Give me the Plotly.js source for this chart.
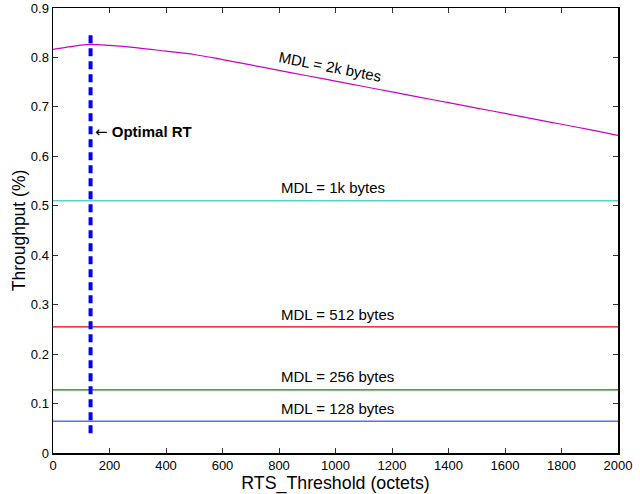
<!DOCTYPE html>
<html>
<head>
<meta charset="utf-8">
<script src="https://cdn.plot.ly/plotly-3.0.1.min.js"></script>
<style>html,body{margin:0;padding:0;background:#fff;}#chart{width:640px;height:494px;}</style>
</head>
<body>
<div id="chart"></div>
<script>
// RTS threshold (octets) samples for the 2k-byte curve
const xCurve = [0, 50, 100, 130, 200, 300, 400, 500, 600, 700, 800, 900, 1000, 1100, 1200, 1300, 1400, 1500, 1600, 1700, 1800, 1900, 2000];
const mdl2k = [0.8165, 0.821, 0.825, 0.8266, 0.8245, 0.8195, 0.8128, 0.806, 0.7957, 0.7848, 0.7739, 0.763, 0.7521, 0.7412, 0.7303, 0.7194, 0.7085, 0.6976, 0.6867, 0.6758, 0.6649, 0.654, 0.6425];

const xFlat = [0, 2000];
const mdl1k = 0.51;
const mdl512 = 0.255;
const mdl256 = 0.1275;
const mdl128 = 0.064;

const optimalRT = 133;
const optimalRange = [0.04, 0.85];

const labels = ["MDL = 2k bytes", "MDL = 1k bytes", "MDL = 512 bytes", "MDL = 256 bytes", "MDL = 128 bytes"];
const labelY = [0.781, 0.536, 0.2795, 0.155, 0.0895];
const xTicks = [0, 200, 400, 600, 800, 1000, 1200, 1400, 1600, 1800, 2000];
const yTicks = [0, 0.1, 0.2, 0.3, 0.4, 0.5, 0.6, 0.7, 0.8, 0.9];

const flat = v => xFlat.map(() => v);

const traces = [
  {x: xCurve, y: mdl2k, mode: 'lines', line: {color: '#cc00cc', width: 1.2, shape: 'spline', smoothing: 1}},
  {x: xFlat, y: flat(mdl1k), mode: 'lines', line: {color: '#5fd0c8', width: 1.5}},
  {x: xFlat, y: flat(mdl512), mode: 'lines', line: {color: '#e00000', width: 1.2}},
  {x: xFlat, y: flat(mdl256), mode: 'lines', line: {color: '#008800', width: 1.2}},
  {x: xFlat, y: flat(mdl128), mode: 'lines', line: {color: '#5a6cf0', width: 1.5}},
  {x: [optimalRT, optimalRT], y: optimalRange, mode: 'lines', line: {color: '#0000ff', width: 4, dash: '8px,5px'}}
];

const FAM = 'Liberation Sans, Arial, sans-serif';
const fnt = {family: FAM, size: 15, color: '#000'};
const annotations = [
  {x: 980, y: labelY[0], text: labels[0], showarrow: false, textangle: 11, font: fnt, xanchor: 'center', yanchor: 'middle'},
  {x: 800, y: labelY[1], text: labels[1], showarrow: false, font: fnt, xanchor: 'left', yanchor: 'middle'},
  {x: 800, y: labelY[2], text: labels[2], showarrow: false, font: fnt, xanchor: 'left', yanchor: 'middle'},
  {x: 800, y: labelY[3], text: labels[3], showarrow: false, font: fnt, xanchor: 'left', yanchor: 'middle'},
  {x: 800, y: labelY[4], text: labels[4], showarrow: false, font: fnt, xanchor: 'left', yanchor: 'middle'},
  {x: 140, y: 0.649, text: '<span style="font-family:DejaVu Sans">←</span> <b>Optimal RT</b>', showarrow: false, font: {family: FAM, size: 15, color: '#000'}, xanchor: 'left', yanchor: 'middle'}
];

const axisCommon = {
  showgrid: false, zeroline: false, showline: true, linecolor: '#000', linewidth: 1.5,
  mirror: 'ticks', ticks: 'inside', ticklen: 5, tickcolor: '#333', tickwidth: 1,
  tickfont: {family: FAM, size: 13, color: '#000'}
};

const layout = {
  width: 640, height: 494,
  margin: {l: 53, r: 22, t: 8, b: 41},
  paper_bgcolor: '#fff', plot_bgcolor: '#fff',
  showlegend: false,
  xaxis: Object.assign({}, axisCommon, {
    range: [0, 2000], tickvals: xTicks, ticktext: xTicks.map(String),
    title: {text: 'RTS_Threshold (octets)', font: {family: FAM, size: 17.8, color: '#000'}, standoff: 3}
  }),
  yaxis: Object.assign({}, axisCommon, {
    range: [0, 0.9], tickvals: yTicks, ticktext: yTicks.map(v => v === 0 ? '0' : v.toFixed(1)),
    title: {text: 'Throughput (%)', font: {family: FAM, size: 17.5, color: '#000'}, standoff: 0}
  }),
  annotations: annotations
};

Plotly.newPlot('chart', traces, layout, {displayModeBar: false, staticPlot: true});
</script>
</body>
</html>
